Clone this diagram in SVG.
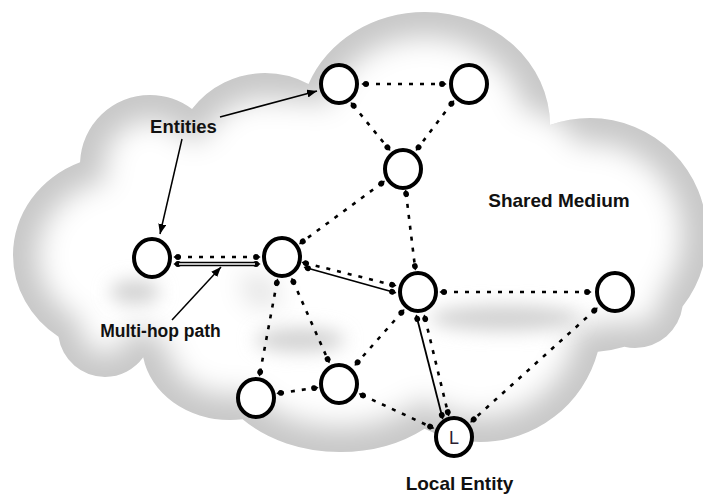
<svg xmlns="http://www.w3.org/2000/svg" width="703" height="494" viewBox="0 0 703 494">
<style>
.node ellipse{fill:#fff;stroke:#000;stroke-width:4}
.dot{fill:none;stroke:#000;stroke-width:2.6;stroke-dasharray:4 7;marker-start:url(#ball);marker-end:url(#ball)}
.solid{fill:none;stroke:#000;stroke-width:1.8;marker-start:url(#ball);marker-end:url(#ball)}
.ann{fill:none;stroke:#000;stroke-width:1.5;marker-end:url(#arr)}
.lbl{font-family:"Liberation Sans",Arial,sans-serif;font-weight:bold;fill:#111;text-anchor:middle}
</style>
<defs>
<clipPath id="cloudclip">
<ellipse cx="590" cy="235" rx="117" ry="117"/>
<ellipse cx="425" cy="125" rx="125" ry="113"/>
<ellipse cx="265" cy="165" rx="92" ry="92"/>
<ellipse cx="150" cy="165" rx="70" ry="70"/>
<ellipse cx="120" cy="255" rx="107" ry="100"/>
<ellipse cx="105" cy="330" rx="47" ry="47"/>
<ellipse cx="230" cy="345" rx="88" ry="75"/>
<ellipse cx="340" cy="355" rx="130" ry="97"/>
<ellipse cx="480" cy="320" rx="122" ry="122"/>
<ellipse cx="635" cy="300" rx="48" ry="48"/>
<ellipse cx="212" cy="212" rx="100" ry="100"/>
<ellipse cx="440" cy="215" rx="150" ry="112"/>
</clipPath>
<filter id="soft" x="-30%" y="-30%" width="160%" height="160%"><feGaussianBlur stdDeviation="14"/></filter>
<filter id="soft2" x="-50%" y="-50%" width="200%" height="200%"><feGaussianBlur stdDeviation="9"/></filter>
<marker id="ball" viewBox="-5 -5 10 10" markerWidth="10" markerHeight="10" markerUnits="userSpaceOnUse" orient="auto-start-reverse" refX="0" refY="0">
<circle cx="-1" cy="0" r="2.9" fill="#000"/>
<path d="M0,-2.6 L3.6,0 L0,2.6Z" fill="#000"/>
</marker>
<marker id="arr" viewBox="0 0 10 8" refX="10" refY="4" markerWidth="10" markerHeight="8" markerUnits="userSpaceOnUse" orient="auto">
<path d="M0,0 L10,4 L0,8Z" fill="#000"/>
</marker>
</defs>
<rect width="703" height="494" fill="#fff"/>
<g id="cloud" clip-path="url(#cloudclip)">
<rect width="703" height="494" fill="#c8c8c8"/>
<g filter="url(#soft)" fill="#fff">
<ellipse cx="590" cy="235" rx="92" ry="92"/>
<ellipse cx="425" cy="125" rx="100" ry="88"/>
<ellipse cx="265" cy="165" rx="67" ry="67"/>
<ellipse cx="150" cy="165" rx="45" ry="45"/>
<ellipse cx="120" cy="255" rx="82" ry="75"/>
<ellipse cx="105" cy="330" rx="24" ry="24"/>
<ellipse cx="230" cy="345" rx="63" ry="50"/>
<ellipse cx="340" cy="355" rx="105" ry="72"/>
<ellipse cx="480" cy="320" rx="97" ry="97"/>
<ellipse cx="635" cy="300" rx="25" ry="25"/>
<ellipse cx="212" cy="212" rx="75" ry="75"/>
<ellipse cx="440" cy="215" rx="125" ry="87"/>
<ellipse cx="330" cy="235" rx="95" ry="70"/>
<ellipse cx="300" cy="150" rx="60" ry="50"/>
<ellipse cx="190" cy="300" rx="60" ry="45"/>
<ellipse cx="520" cy="160" rx="60" ry="50"/>
</g>
<g filter="url(#soft2)" fill="#d2d2d2">
<ellipse cx="505" cy="318" rx="75" ry="13"/>
<ellipse cx="300" cy="340" rx="45" ry="12"/>
<ellipse cx="135" cy="292" rx="25" ry="12"/>
</g>
</g>
<g id="connectors">
<path class="dot" d="M365,84 L443,84"/>
<path class="dot" d="M353,105 L388,148"/>
<path class="dot" d="M452,103 L418,148"/>
<path class="dot" d="M382,183 L302,242"/>
<path class="dot" d="M406,193 L415,267"/>
<path class="dot" d="M177,257 L257,257"/>
<g id="double-line">
<path d="M177,264 L257,264" stroke="#000" stroke-width="4.6" fill="none" marker-start="url(#ball)" marker-end="url(#ball)"/>
<path d="M179,264 L255,264" stroke="#fff" stroke-width="1.6" fill="none"/>
</g>
<path class="dot" d="M305,263 L393,285"/>
<path class="solid" d="M307,268 L393,292"/>
<path class="dot" d="M277,282 L260,373"/>
<path class="dot" d="M293,281 L328,360"/>
<path class="dot" d="M402,312 L357,363"/>
<path class="dot" d="M443,292 L588,292"/>
<path class="dot" d="M425,318 L448,413"/>
<path class="solid" d="M417,318 L442,416"/>
<path class="dot" d="M595,310 L473,420"/>
<path class="dot" d="M280,393 L315,388"/>
<path class="dot" d="M362,395 L431,427"/>
<g id="annotations">
<path class="ann" d="M220,117 L317,91"/>
<path class="ann" d="M182,139 L160,234"/>
<path class="ann" d="M172,320 L221,267"/>
</g>
</g>
<g id="n1" class="node"><ellipse cx="339" cy="84" rx="18" ry="19"/></g>
<g id="n2" class="node"><ellipse cx="469" cy="84" rx="18" ry="19"/></g>
<g id="n3" class="node"><ellipse cx="403" cy="169" rx="18" ry="19"/></g>
<g id="n4" class="node"><ellipse cx="152" cy="258" rx="18" ry="19"/></g>
<g id="n5" class="node"><ellipse cx="282" cy="257" rx="18" ry="19"/></g>
<g id="n6" class="node"><ellipse cx="418" cy="292" rx="18" ry="19"/></g>
<g id="n7" class="node"><ellipse cx="615" cy="292" rx="18" ry="19"/></g>
<g id="n8" class="node"><ellipse cx="256" cy="398" rx="18" ry="19"/></g>
<g id="n9" class="node"><ellipse cx="339" cy="384" rx="18" ry="19"/></g>
<g id="local" class="node"><ellipse cx="454" cy="437" rx="18" ry="19"/>
<text x="454" y="443.5" font-family="Liberation Sans, Arial, sans-serif" font-size="18" fill="#2a2030" text-anchor="middle">L</text></g>
<g id="labels">
<text class="lbl" x="183.5" y="133" font-size="18.5">Entities</text>
<text class="lbl" x="559" y="207" font-size="19">Shared Medium</text>
<text class="lbl" x="160.5" y="337" font-size="17.5">Multi-hop path</text>
<text class="lbl" x="459.5" y="490" font-size="19">Local Entity</text>
</g>
</svg>
